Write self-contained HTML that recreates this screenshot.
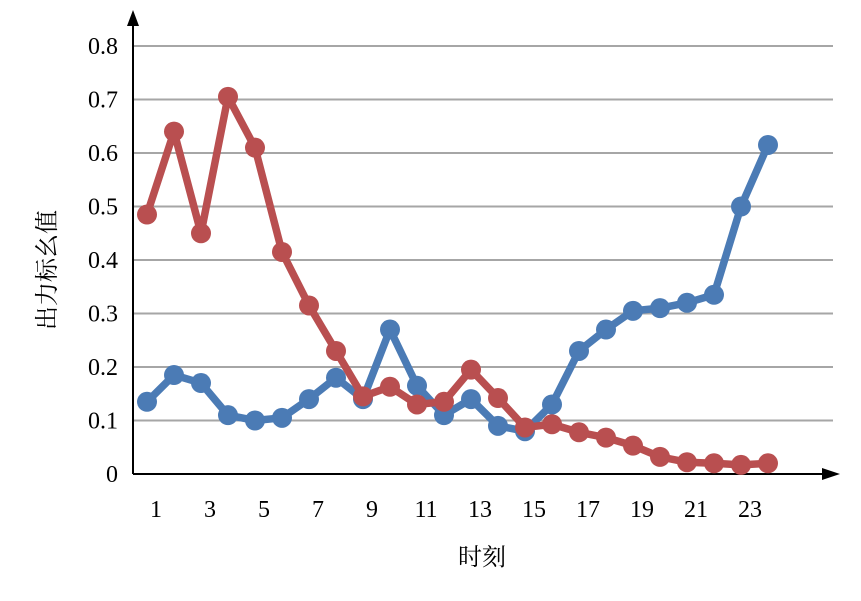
<!DOCTYPE html>
<html><head><meta charset="utf-8"><style>body{margin:0;background:#fff}svg text{font-family:"Liberation Serif","Noto Serif CJK SC",serif}</style></head>
<body>
<svg id="c" width="861" height="596" xmlns="http://www.w3.org/2000/svg"></svg>
<script>
const categories=[1,2,3,4,5,6,7,8,9,10,11,12,13,14,15,16,17,18,19,20,21,22,23,24];
const xTickLabels=["1","3","5","7","9","11","13","15","17","19","21","23"];
const yTicks=[0,0.1,0.2,0.3,0.4,0.5,0.6,0.7,0.8];
const yTickLabels=["0","0.1","0.2","0.3","0.4","0.5","0.6","0.7","0.8"];
const blueValues=[0.135,0.185,0.17,0.11,0.10,0.105,0.14,0.18,0.14,0.27,0.165,0.11,0.14,0.09,0.08,0.13,0.23,0.27,0.305,0.31,0.32,0.335,0.50,0.615];
const redValues=[0.485,0.64,0.45,0.705,0.61,0.415,0.315,0.23,0.145,0.163,0.13,0.135,0.195,0.142,0.087,0.093,0.078,0.068,0.053,0.032,0.022,0.02,0.017,0.02];
const svg=document.getElementById('c');const NS='http://www.w3.org/2000/svg';
function y(v){return 474-v/0.8*428;}
function x(i){return 147+(i-1)*27;}
function mk(t,a,p){const e=document.createElementNS(NS,t);for(const k in a)e.setAttribute(k,a[k]);(p||svg).appendChild(e);return e;}
yTicks.forEach((v,i)=>{
 if(v>0){const g=mk('line',{x1:133,x2:833,y1:y(v),y2:y(v),stroke:'#a6a6a6','stroke-width':2});
 
 }
 const t=mk('text',{x:118,y:y(v)+8,'text-anchor':'end','font-size':24});t.textContent=yTickLabels[i];
 
 
});
xTickLabels.forEach(l=>{const t=mk('text',{x:x(+l)+9,y:517,'text-anchor':'middle','font-size':24});t.textContent=l;
 
 });
const ax=mk('path',{d:'M133,474V20M133,474H828',stroke:'#000','stroke-width':2,fill:'none'});


const ar=mk('path',{d:'M127,26L133,10L139,26ZM822,468L840,474L822,480Z',fill:'#000'});


function series(vals,color,name){
 const g=mk('g',{});
 
 
 mk('polyline',{points:vals.map((v,i)=>x(categories[i])+','+y(v)).join(' '),fill:'none',stroke:color,'stroke-width':7.5,'stroke-linejoin':'round'},g);
 vals.forEach((v,i)=>{const c=mk('circle',{cx:x(categories[i]),cy:y(v),r:10,fill:color},g);
 
 });
}
series(blueValues,'#4b7bb5','blue-series');
series(redValues,'#b94f50','red-series');
const yt=mk('text',{x:0,y:0,'font-size':24,'text-anchor':'middle',transform:'translate(55,270) rotate(-90)'});yt.textContent='出力标幺值';


const xt=mk('text',{x:482,y:565,'font-size':24,'text-anchor':'middle'});xt.textContent='时刻';


</script>
</body></html>
